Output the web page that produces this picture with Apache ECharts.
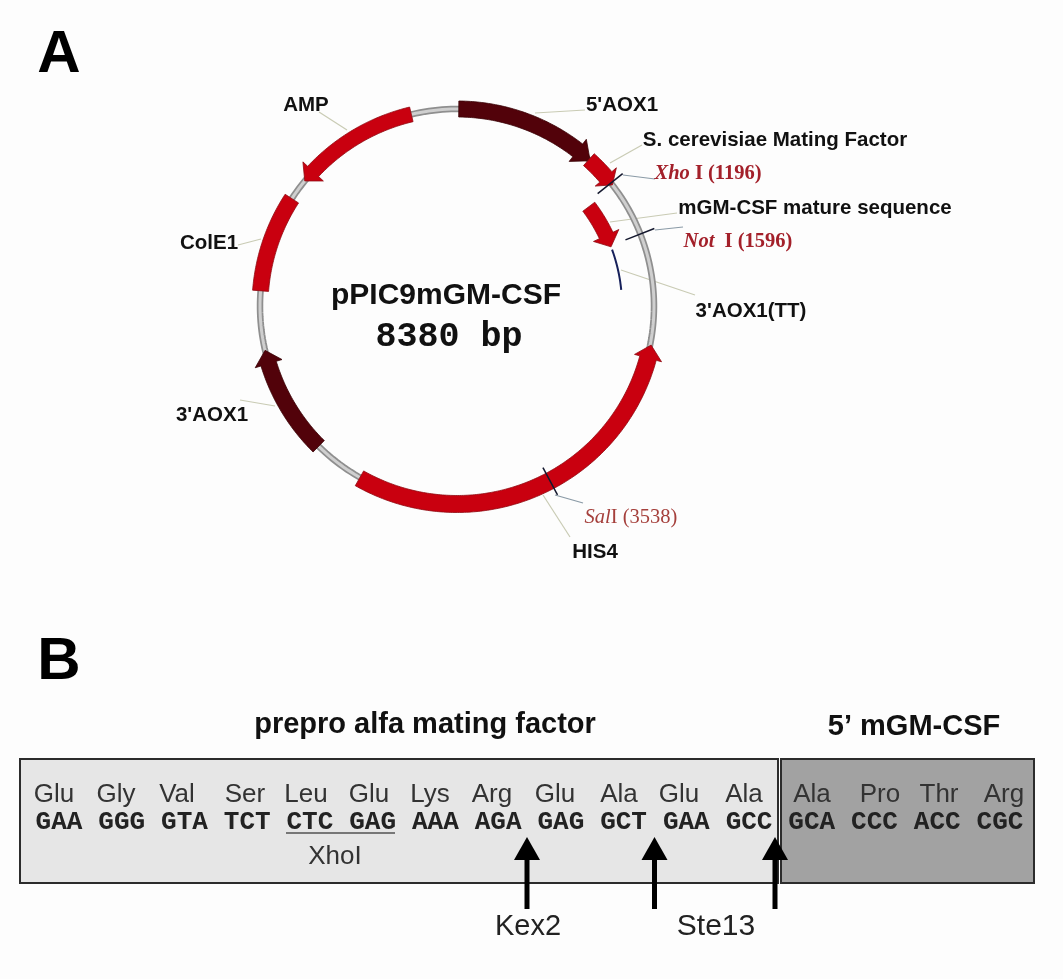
<!DOCTYPE html>
<html><head><meta charset="utf-8">
<style>html,body{margin:0;padding:0;background:#fdfdfd}#c{width:1063px;height:979px}</style>
<script src="https://cdn.jsdelivr.net/npm/echarts@6/dist/echarts.min.js"></script>
</head><body><div id="c"></div>
<script>
// ---- data ----
const plasmidName = 'pPIC9mGM-CSF';
const plasmidSize = 8380;
const featureNames = ["5'AOX1", 'S. cerevisiae Mating Factor', 'mGM-CSF mature sequence', 'HIS4', "3'AOX1", 'ColE1', 'AMP'];
const featureTail  = [12, 978, 1234, 4877, 5228, 6388, 8068];
const featureTip   = [990, 1212, 1606, 2360, 5982, 7054, 7202];
const terminatorName = "3'AOX1(TT)";
const terminatorSpan = [1630, 1965];
const siteNames = ['Xho', 'Not ', 'Sal'];
const sitePositions = [1196, 1596, 3538];
const aminoAcids = ['Glu','Gly','Val','Ser','Leu','Glu','Lys','Arg','Glu','Ala','Glu','Ala','Ala','Pro','Thr','Arg'];
const codons = ['GAA','GGG','GTA','TCT','CTC','GAG','AAA','AGA','GAG','GCT','GAA','GCC','GCA','CCC','ACC','CGC'];
const regionTitles = ['prepro alfa mating factor', "5\u2019 mGM-CSF"];
const cleavageNames = ['Kex2', 'Ste13'];

// ---- layout and style, kept apart from the data ----
const RED = '#c9000f', DARK = '#52020a', SANS = '"Liberation Sans"', SERIF = '"Liberation Serif"', MONO = '"Liberation Mono"';
const featureStyle = [
  {r:197, hw:8,  hh:14, head:110, fill:DARK},
  {r:197, hw:8,  hh:14, head:70,  fill:RED},
  {r:165, hw:7.5,hh:14, head:100, fill:RED},
  {r:198, hw:8.5,hh:14, head:90,  fill:RED},
  {r:197, hw:8,  hh:14, head:93,  fill:DARK},
  {r:197, hw:8,  hh:0,  head:0,   fill:RED},
  {r:197, hw:7.5,hh:14, head:86,  fill:RED}
];
const siteTick = [[180,212],[181,212],[183,214]];
const aminoX = [54,116,177,245,306,369,430,492,555,619,679,744,812,880,939,1004];
const codonX = codons.map((_, i) => 59 + 62.73 * i);
const leaders = [
  {p:[[535,113],[585,110]], c:'#c9cbb4'},
  {p:[[610,163],[642,145]], c:'#c9cbb4'},
  {p:[[610,222],[677,213]], c:'#c9cbb4'},
  {p:[[621,270],[695,295]], c:'#c9cbb4'},
  {p:[[319,112],[347,130]], c:'#c9cbb4'},
  {p:[[238,245],[261,239]], c:'#c9cbb4'},
  {p:[[240,400],[275,406]], c:'#c9cbb4'},
  {p:[[543,495],[570,537]], c:'#c9cbb4'},
  {p:[[623,175],[655,179]], c:'#8a9aa6'},
  {p:[[655,230],[683,227]], c:'#8a9aa6'},
  {p:[[555,495],[583,503]], c:'#8a9aa6'}
];
const boxes = [
  {b:[20,759,778,883], fill:'#e6e6e6'},
  {b:[781,759,1034,883], fill:'#a2a2a2'}
];
const arrowX = [527, 654.5, 775];

const lab = (text, x, y, font, fill, extra) => Object.assign({text, x, y, font, fill, align:'center'}, extra||{});
const labelFont = 'bold 20.5px ' + SANS;
const siteRich = (nameFont, restFont, color) => ({
  a:{font:nameFont, fill:color}, b:{font:restFont, fill:color}
});
const texts = [
  lab('A', 59, 55, 'bold 60px '+SANS, '#000'),
  lab('B', 59, 662, 'bold 60px '+SANS, '#000'),
  lab(plasmidName, 446, 296, 'bold 30px '+SANS, '#111'),
  lab(plasmidSize + ' bp', 449, 337, 'bold 35px '+MONO, '#111'),
  lab(featureNames[0], 622, 105, labelFont, '#111'),
  lab(featureNames[1], 775, 140, labelFont, '#111'),
  lab(featureNames[2], 815, 208, labelFont, '#111'),
  lab(featureNames[3], 595, 552, labelFont, '#111'),
  lab(featureNames[4], 212, 415, labelFont, '#111'),
  lab(featureNames[5], 209, 243, labelFont, '#111'),
  lab(featureNames[6], 306, 105, labelFont, '#111'),
  lab(terminatorName, 751, 311, labelFont, '#111'),
  lab(`{a|${siteNames[0]}}{b| I (${sitePositions[0]})}`, 708, 174, '', '#a3202a', {rich:siteRich('italic bold 20.5px '+SERIF,'bold 20.5px '+SERIF,'#a3202a')}),
  lab(`{a|${siteNames[1]}}{b| I (${sitePositions[1]})}`, 738, 242, '', '#a3202a', {rich:siteRich('italic bold 20.5px '+SERIF,'bold 20.5px '+SERIF,'#a3202a')}),
  lab(`{a|${siteNames[2]}}{b|I (${sitePositions[2]})}`, 631, 518, '', '#a5403c', {rich:siteRich('italic 20.5px '+SERIF,'20.5px '+SERIF,'#a5403c')}),
  lab(regionTitles[0], 425, 725, 'bold 29px '+SANS, '#111'),
  lab(regionTitles[1], 914, 727, 'bold 29px '+SANS, '#111'),
  lab('XhoI', 335, 857, '26px '+SANS, '#333'),
  lab(cleavageNames[0], 528, 927, '29px '+SANS, '#222'),
  lab(cleavageNames[1], 716, 927, '30px '+SANS, '#222')
];
aminoAcids.forEach((t, i) => texts.push(lab(t, aminoX[i], 795, '26px '+SANS, '#333')));
codons.forEach((t, i) => texts.push(lab(t, codonX[i], 822, 'bold 26px '+MONO, '#222')));

// ---- drawing through the chart's own coordinate systems ----
function featureItem(params, api) {
  const i = api.value(0), s = featureStyle[i];
  const tail = api.value(1), tip = api.value(2);
  const dir = tip > tail ? 1 : -1;
  const base = tip - dir * s.head;
  const along = [];
  const n = Math.max(4, Math.ceil(Math.abs(base - tail) / 15));
  for (let k = 0; k <= n; k++) along.push(tail + (base - tail) * k / n);
  const pts = along.map(b => api.coord([s.r + s.hw, b]));
  if (s.head) {
    pts.push(api.coord([s.r + s.hh, base]), api.coord([s.r, tip]), api.coord([s.r - s.hh, base]));
  }
  along.slice().reverse().forEach(b => pts.push(api.coord([s.r - s.hw, b])));
  return {type:'polygon', shape:{points:pts}, style:{fill:s.fill, stroke:s.fill === RED ? '#8f0a12' : '#3a0206', lineWidth:0.8}};
}
function ringItem(params, api) {
  const pts = [];
  for (let b = 0; b <= plasmidSize; b += 30) pts.push(api.coord([197, b]));
  pts.push(api.coord([197, plasmidSize]));
  return {type:'group', children:[
    {type:'polyline', shape:{points:pts}, style:{fill:null, stroke:'#8f8f8f', lineWidth:6.5}},
    {type:'polyline', shape:{points:pts}, style:{fill:null, stroke:'#cfcfcf', lineWidth:3}}
  ]};
}
function terminatorItem(params, api) {
  const pts = [];
  const a = api.value(0), z = api.value(1);
  for (let k = 0; k <= 20; k++) pts.push(api.coord([165, a + (z - a) * k / 20]));
  return {type:'polyline', shape:{points:pts}, style:{fill:null, stroke:'#16205a', lineWidth:2}};
}
function siteItem(params, api) {
  const t = siteTick[params.dataIndex], b = api.value(0);
  return {type:'line', shape:{x1:api.coord([t[0],b])[0], y1:api.coord([t[0],b])[1], x2:api.coord([t[1],b])[0], y2:api.coord([t[1],b])[1]},
    style:{stroke:'#14182e', lineWidth:1.5}};
}
function pageLine(api, a, z, stroke, lineWidth) {
  const p = api.coord(a), q = api.coord(z);
  return {type:'line', shape:{x1:p[0], y1:p[1], x2:q[0], y2:q[1]}, style:{stroke, lineWidth}};
}
function leaderItem(params, api) {
  const l = leaders[params.dataIndex];
  return pageLine(api, l.p[0], l.p[1], l.c, 1.2);
}
function boxItem(params, api) {
  const d = boxes[params.dataIndex], p = api.coord([d.b[0], d.b[1]]), q = api.coord([d.b[2], d.b[3]]);
  return {type:'rect', shape:{x:p[0], y:p[1], width:q[0]-p[0], height:q[1]-p[1]}, style:{fill:d.fill, stroke:'#2c2c2c', lineWidth:2}};
}
function underlineItem(params, api) {
  return pageLine(api, [286,833], [395,833], '#777', 2);
}
function arrowItem(params, api) {
  const x = arrowX[params.dataIndex];
  return {type:'group', children:[
    pageLine(api, [x,855], [x,909], '#000', 5),
    {type:'polygon', shape:{points:[api.coord([x,837]), api.coord([x+13,860]), api.coord([x-13,860])]}, style:{fill:'#000'}}
  ]};
}
function textItem(params, api) {
  const t = texts[params.dataIndex], p = api.coord([t.x, t.y]);
  const style = {text:t.text, fill:t.fill, align:t.align, verticalAlign:'middle'};
  if (t.font) style.font = t.font;
  if (t.rich) style.rich = t.rich;
  return {type:'text', x:p[0], y:p[1], style};
}

const page = {coordinateSystem:'cartesian2d', type:'custom', silent:true, clip:false};
const onPage = (name, data, renderItem, z) => Object.assign({}, page, {name, data, renderItem, z});
const onRing = (name, data, renderItem, z) => ({type:'custom', coordinateSystem:'polar', silent:true, name, data, renderItem, z});

const chart = echarts.init(document.getElementById('c'));
chart.setOption({
  animation:false,
  backgroundColor:'#fdfdfd',
  grid:{left:0, top:0, right:0, bottom:0},
  xAxis:{type:'value', min:0, max:1063, show:false},
  yAxis:{type:'value', min:0, max:979, inverse:true, show:false},
  polar:{center:[457,306], radius:230},
  angleAxis:{type:'value', min:0, max:plasmidSize, startAngle:90, show:false},
  radiusAxis:{type:'value', min:0, max:230, show:false},
  series:[
    onPage('leaders', leaders.map((_, i) => [i, i]), leaderItem, 1),
    onRing('backbone', [[197, 0]], ringItem, 2),
    onRing('features', featureNames.map((n, i) => [i, featureTail[i], featureTip[i]]), featureItem, 3),
    onRing('terminator', [terminatorSpan], terminatorItem, 4),
    onRing('sites', sitePositions.map(p => [p]), siteItem, 5),
    onPage('boxes', boxes.map((_, i) => [i, i]), boxItem, 1),
    onPage('underline', [[0, 0]], underlineItem, 6),
    onPage('arrows', arrowX.map((x, i) => [x, i]), arrowItem, 7),
    onPage('labels', texts.map((_, i) => [i, i]), textItem, 8)
  ]
});
</script></body></html>
